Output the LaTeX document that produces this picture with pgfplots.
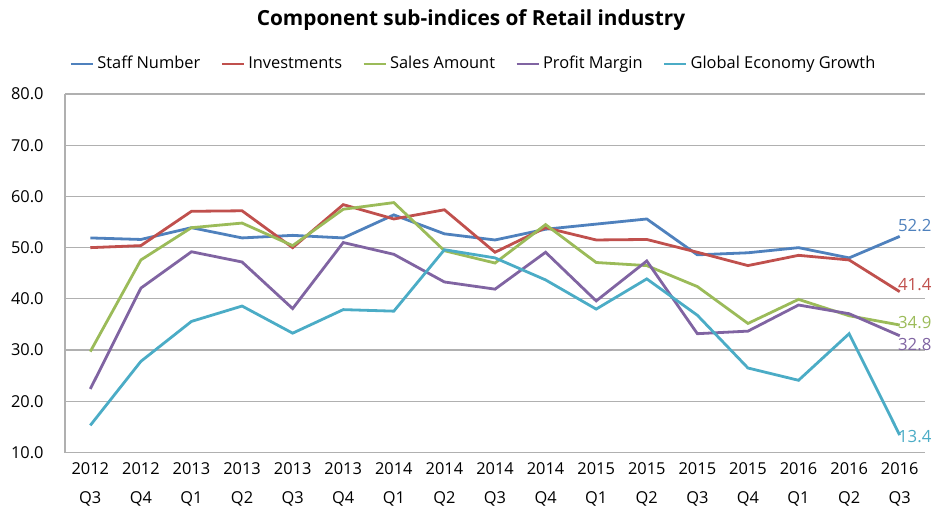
\documentclass[border=0pt]{standalone}
\usepackage{pgfplots}
\pgfplotsset{compat=1.18}
\usepackage{pgfplotstable}
\usepackage{fontspec}
\setmainfont{Open Sans}

\definecolor{cStaff}{HTML}{4F81BD}
\definecolor{cInv}{HTML}{C0504D}
\definecolor{cSales}{HTML}{9BBB59}
\definecolor{cProfit}{HTML}{8064A2}
\definecolor{cGlobal}{HTML}{4BACC6}
\definecolor{gridc}{HTML}{B0B0B0}

% quarterly sub-indices, 2012 Q3 .. 2016 Q3
\pgfplotstableread{
x  staff inv  sales profit global
0  51.9  50.0 29.7  22.4   15.3
1  51.6  50.4 47.6  42.1   27.8
2  53.9  57.1 53.9  49.2   35.6
3  51.9  57.2 54.8  47.2   38.6
4  52.4  50.0 50.4  38.1   33.3
5  51.9  58.4 57.5  51.0   37.9
6  56.4  55.6 58.8  48.7   37.6
7  52.7  57.4 49.4  43.3   49.6
8  51.5  49.1 47.0  41.9   48.0
9  53.6  53.9 54.5  49.1   43.7
10 54.6  51.5 47.1  39.6   38.0
11 55.6  51.6 46.5  47.4   43.9
12 48.6  49.1 42.4  33.2   36.8
13 49.0  46.5 35.2  33.7   26.5
14 50.0  48.5 39.9  38.8   24.1
15 48.0  47.6 36.7  37.1   33.2
16 52.2  41.4 34.9  32.8   13.4
}\retail

\begin{document}
\begin{tikzpicture}
\path[use as bounding box] (-32.5pt,-31.25pt) rectangle (435pt,226.25pt);
\begin{axis}[
    scale only axis,
    width=430pt, height=179.25pt,
    at={(0,0)}, anchor=south west,
    xmin=-0.5, xmax=16.5,
    ymin=10, ymax=80,
    ytick={10,20,...,80},
    xtick={0,...,16},
    xticklabels={{2012\\Q3},{2012\\Q4},{2013\\Q1},{2013\\Q2},{2013\\Q3},{2013\\Q4},
                 {2014\\Q1},{2014\\Q2},{2014\\Q3},{2014\\Q4},{2015\\Q1},{2015\\Q2},
                 {2015\\Q3},{2015\\Q4},{2016\\Q1},{2016\\Q2},{2016\\Q3}},
    major tick length=0pt,
    ymajorgrids,
    grid style={gridc, line width=0.6pt},
    axis x line*=bottom, axis y line*=left,
    axis line style={gridc, line width=0.6pt, -},
    /pgf/number format/.cd, fixed, fixed zerofill, precision=1, assume math mode=true,
    /pgfplots/.cd,
    tick label style={font=\fontsize{8.2}{14.5}\selectfont},
    yticklabel style={anchor=east, inner sep=0pt, xshift=-10.5pt},
    xticklabel style={align=center, anchor=north, inner sep=0pt, yshift=-5pt},
    legend columns=5,
    legend style={draw=none, fill=none, at={(axis description cs:0.4755,1.084)},
        anchor=center, font=\fontsize{8.2}{10}\selectfont,
        /tikz/every even column/.append style={column sep=8.6pt},
        nodes={inner xsep=1.5pt, inner ysep=0pt}},
    legend image code/.code={\draw[#1] (0pt,0pt) -- (11pt,0pt);},
    every axis plot/.append style={line width=1.4pt, mark=none},
    clip=false,
]
\addplot[cStaff] table[x=x, y=staff] {\retail};
\addlegendentry{Staff Number}
\addplot[cInv] table[x=x, y=inv] {\retail};
\addlegendentry{Investments}
\addplot[cSales] table[x=x, y=sales] {\retail};
\addlegendentry{Sales Amount}
\addplot[cProfit] table[x=x, y=profit] {\retail};
\addlegendentry{Profit Margin}
\addplot[cGlobal] table[x=x, y=global] {\retail};
\addlegendentry{Global Economy Growth}

\begin{scope}[every node/.style={anchor=west, inner sep=0pt, xshift=-1pt, font=\fontsize{8.4}{10}\selectfont}]
\node[text=cStaff]   at (axis cs:16,54.3) {52.2};
\node[text=cInv]     at (axis cs:16,42.8) {41.4};
\node[text=cSales]   at (axis cs:16,35.4) {34.9};
\node[text=cProfit]  at (axis cs:16,31.1) {32.8};
\node[text=cGlobal]  at (axis cs:16,13.1) {13.4};
\end{scope}
\end{axis}
\node[font=\bfseries\fontsize{10.4}{12}\selectfont] at (203pt,216.25pt) {Component sub-indices of Retail industry};
\end{tikzpicture}
\end{document}
